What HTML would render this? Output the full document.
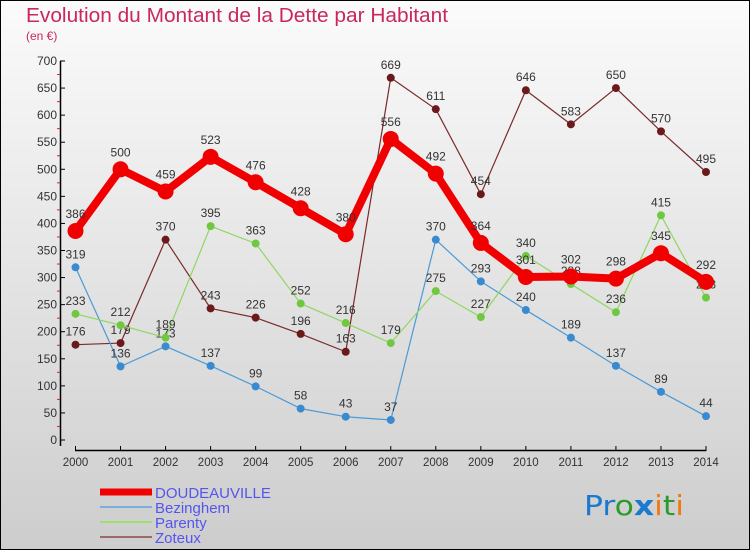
<!DOCTYPE html>
<html><head><meta charset="utf-8"><style>
html,body{margin:0;padding:0;}
body{width:750px;height:550px;overflow:hidden;font-family:"Liberation Sans","DejaVu Sans",sans-serif;}
</style></head><body>
<svg width="750" height="550" xmlns="http://www.w3.org/2000/svg">
<defs><linearGradient id="bg" x1="0" y1="0" x2="0" y2="1"><stop offset="0" stop-color="#fbfbfb"/><stop offset="1" stop-color="#cdcdcd"/></linearGradient></defs>
<rect x="0.5" y="0.5" width="749" height="549" fill="url(#bg)" stroke="#000"/>
<text x="26" y="22" font-size="20" fill="#c8285a" font-weight="normal" textLength="422" lengthAdjust="spacingAndGlyphs">Evolution du Montant de la Dette par Habitant</text>
<text x="26" y="40" font-size="12" fill="#c8285a">(en €)</text>
<g id="axes"></g>
<g id="series"></g>
<g id="legend"></g>
<text x="584" y="515" font-size="28" font-family="'DejaVu Sans',sans-serif" textLength="100" lengthAdjust="spacingAndGlyphs"><tspan fill="#1a7ad0">Pr</tspan><tspan fill="#2a9a2a">o</tspan><tspan fill="#1a7ad0" font-weight="bold">x</tspan><tspan fill="#f07a10">i</tspan><tspan fill="#2a9a2a">t</tspan><tspan fill="#f07a10">i</tspan></text>
</svg>
<script>
const years=[2000,2001,2002,2003,2004,2005,2006,2007,2008,2009,2010,2011,2012,2013,2014];
const doudeauville=[386,500,459,523,476,428,380,556,492,364,301,302,298,345,292];
const bezinghem=[319,136,173,137,99,58,43,37,370,293,240,189,137,89,44];
const parenty=[233,212,189,395,363,252,216,179,275,227,340,288,236,415,263];
const zoteux=[176,179,370,243,226,196,163,669,611,454,646,583,650,570,495];
const yTicks=[0,50,100,150,200,250,300,350,400,450,500,550,600,650,700];
const NS="http://www.w3.org/2000/svg";
const X=i=>75.5+i*(706-75.5)/(years.length-1);
const Y=v=>440-v*(440-61)/700;
function mk(t,a,p){const e=document.createElementNS(NS,t);for(const k in a)e.setAttribute(k,a[k]);p.appendChild(e);return e;}
const ax=document.getElementById('axes');
let e=mk('line',{x1:60.5,y1:61,x2:60.5,y2:446,stroke:'#000','stroke-width':1.5},ax);


e=mk('line',{x1:75,y1:450.5,x2:706,y2:450.5,stroke:'#000','stroke-width':1.5},ax);


yTicks.forEach(v=>{
  mk('line',{x1:60,y1:Y(v),x2:65,y2:Y(v),stroke:'#000'},ax);
  if(v<700)mk('line',{x1:57,y1:Y(v+25),x2:60,y2:Y(v+25),stroke:'#e02020'},ax);
  const t=mk('text',{x:57,y:Y(v)+4,'font-size':12,fill:'#333','text-anchor':'end'},ax);
  t.textContent=v;
  
  
});
years.forEach((y,i)=>{
  mk('line',{x1:X(i),y1:446,x2:X(i),y2:451,stroke:'#000'},ax);
  const t=mk('text',{x:X(i),y:466,'font-size':11.5,fill:'#333','text-anchor':'middle'},ax);
  t.textContent=y;
  
  
});
const sg=document.getElementById('series');
function series(name,vals,color,dot,w,r){
  const g=mk('g',{},sg);
  
  
  mk('polyline',{points:vals.map((v,i)=>X(i)+','+Y(v)).join(' '),fill:'none',stroke:color,'stroke-width':w,'stroke-linejoin':'round'},g);
  vals.forEach((v,i)=>{
    const c=mk('circle',{cx:X(i),cy:Y(v),r:r,fill:dot},g);
    
    
    const t=mk('text',{x:X(i),y:Y(v)-r-5,'font-size':12,fill:'#333','text-anchor':'middle'},g);
    t.textContent=v;
    
    
  });
}
series('zoteux',zoteux,'#7a2a2a','#6a1a1a',1.2,4);
series('bezinghem',bezinghem,'#4a9ad8','#3a8ad0',1.2,4);
series('parenty',parenty,'#8ed860','#70c840',1.2,4);
series('doudeauville',doudeauville,'#f00000','#f00000',8,8);
const lg=document.getElementById('legend');
[['DOUDEAUVILLE','#f00000',7],['Bezinghem','#7aaedc',2],['Parenty','#9ee070',2],['Zoteux','#9a6a6a',2]].forEach((d,i)=>{
  const y=492+i*15;
  const g=mk('g',{},lg);
  
  
  mk('line',{x1:100,y1:y,x2:152,y2:y,stroke:d[1],'stroke-width':d[2]},g);
  const t=mk('text',{x:155,y:y+6,'font-size':15,fill:'#5555ee'},g);
  t.textContent=d[0];
});
</script>
</body></html>
